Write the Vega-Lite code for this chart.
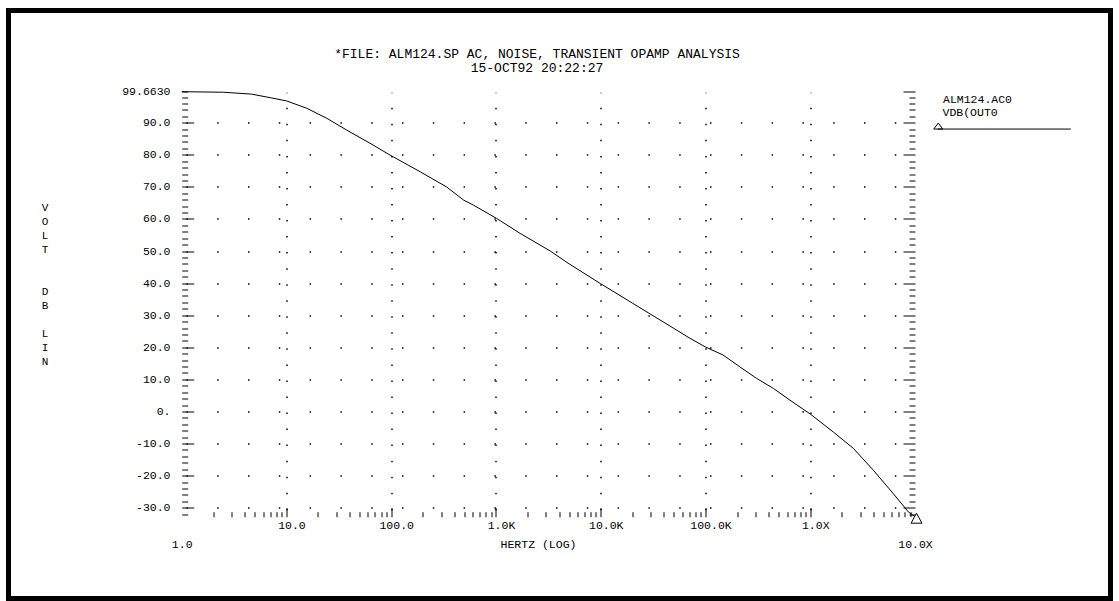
{
  "$schema": "https://vega.github.io/schema/vega-lite/v6.json",
  "width": 1102,
  "height": 588,
  "autosize": {"type": "none"},
  "padding": {"left": 8.5, "top": 10.5, "right": 8.5, "bottom": 2.5},
  "background": "white",
  "title": {
    "text": ["*FILE: ALM124.SP  AC, NOISE, TRANSIENT OPAMP ANALYSIS", "15-OCT92 20:22:27"],
    "font": "Liberation Mono",
    "fontSize": 13,
    "fontWeight": "normal",
    "color": "black",
    "anchor": "middle",
    "frame": "group",
    "baseline": "alphabetic",
    "offset": -74,
    "dx": -22.5,
    "lineHeight": 13.5
  },
  "config": {
    "view": {"stroke": "black", "strokeWidth": 5, "fill": "white"},
    "axis": {
      "domain": false,
      "grid": false,
      "labelFont": "Liberation Mono",
      "labelFontSize": 11.5,
      "labelColor": "black",
      "tickColor": "black",
      "tickWidth": 1,
      "titleFont": "Liberation Mono",
      "titleFontSize": 11.5,
      "titleFontWeight": "normal",
      "titleColor": "black",
      "labelOverlap": false,
      "labelFlush": false,
      "labelBound": false,
      "gridColor": "black",
      "gridOpacity": 1
    }
  },
  "data": {
    "values": [
      {"f": 1, "db": 99.663, "s": "VDB(OUT0"},
      {"f": 2.5, "db": 99.5, "s": "VDB(OUT0"},
      {"f": 4.66, "db": 98.9, "s": "VDB(OUT0"},
      {"f": 7, "db": 97.8, "s": "VDB(OUT0"},
      {"f": 10, "db": 96.8, "s": "VDB(OUT0"},
      {"f": 15.6, "db": 94.5, "s": "VDB(OUT0"},
      {"f": 24.2, "db": 91.4, "s": "VDB(OUT0"},
      {"f": 37.6, "db": 87.7, "s": "VDB(OUT0"},
      {"f": 62.7, "db": 83.6, "s": "VDB(OUT0"},
      {"f": 97.6, "db": 79.9, "s": "VDB(OUT0"},
      {"f": 189, "db": 74.7, "s": "VDB(OUT0"},
      {"f": 337, "db": 70.0, "s": "VDB(OUT0"},
      {"f": 490, "db": 65.9, "s": "VDB(OUT0"},
      {"f": 610, "db": 64.3, "s": "VDB(OUT0"},
      {"f": 1010, "db": 60.2, "s": "VDB(OUT0"},
      {"f": 1700, "db": 55.5, "s": "VDB(OUT0"},
      {"f": 3300, "db": 50.0, "s": "VDB(OUT0"},
      {"f": 5000, "db": 46.0, "s": "VDB(OUT0"},
      {"f": 10000, "db": 39.8, "s": "VDB(OUT0"},
      {"f": 20000, "db": 33.8, "s": "VDB(OUT0"},
      {"f": 40000, "db": 27.8, "s": "VDB(OUT0"},
      {"f": 71100, "db": 22.8, "s": "VDB(OUT0"},
      {"f": 100000, "db": 20.1, "s": "VDB(OUT0"},
      {"f": 147000, "db": 17.6, "s": "VDB(OUT0"},
      {"f": 213000, "db": 13.9, "s": "VDB(OUT0"},
      {"f": 308000, "db": 10.3, "s": "VDB(OUT0"},
      {"f": 444000, "db": 7.2, "s": "VDB(OUT0"},
      {"f": 641000, "db": 3.5, "s": "VDB(OUT0"},
      {"f": 1000000, "db": -0.8, "s": "VDB(OUT0"},
      {"f": 1660000, "db": -6.4, "s": "VDB(OUT0"},
      {"f": 2580000, "db": -11.5, "s": "VDB(OUT0"},
      {"f": 4000000, "db": -18.3, "s": "VDB(OUT0"},
      {"f": 6200000, "db": -25.6, "s": "VDB(OUT0"},
      {"f": 8630000, "db": -31.3, "s": "VDB(OUT0"},
      {"f": 10000000, "db": -32.8, "s": "VDB(OUT0"}
    ]
  },
  "resolve": {"axis": {"x": "independent", "y": "independent"}, "scale": {"x": "shared", "y": "shared"}},
  "layer": [
    {
      "mark": {"type": "line", "strokeWidth": 1},
      "encoding": {
        "x": {
          "field": "f", "type": "quantitative",
          "scale": {"type": "log", "domain": [1, 10000000], "range": [173.2, 906.5], "nice": false},
          "axis": {
            "orient": "bottom", "offset": -81.8,
            "values": [10, 100, 1000, 10000, 100000, 1000000],
            "ticks": false, "tickSize": 0,
            "labelExpr": "datum.value == 10 ? '10.0' : datum.value == 100 ? '100.0' : datum.value == 1000 ? '1.0K' : datum.value == 10000 ? '10.0K' : datum.value == 100000 ? '100.0K' : '1.0X'",
            "labelPadding": 11.3, "labelBaseline": "alphabetic", "labelAlign": "center", "labelOffset": 5,
            "title": null
          }
        },
        "y": {
          "field": "db", "type": "quantitative",
          "scale": {"domain": [-32.8, 99.663], "range": [506.2, 81.2], "zero": false, "nice": false},
          "axis": {
            "orient": "left", "offset": -173.2,
            "values": [99.663, 90, 80, 70, 60, 50, 40, 30, 20, 10, 0, -10, -20, -30],
            "ticks": false, "tickSize": 0,
            "labelPadding": 11.7,
            "labelExpr": "datum.value > 99 ? '99.6630' : datum.value == 0 ? '0.' : datum.value + '.0'",
            "title": ["V", "O", "L", "T"],
            "titleAngle": 0, "titleAlign": "center", "titleBaseline": "top",
            "titleX": -137.2, "titleY": 191, "titleFontSize": 11, "titleLineHeight": 14,
            "titleColor": "black"
          }
        },
        "color": {
          "field": "s", "type": "nominal",
          "scale": {"range": ["black"]},
          "legend": {
            "orient": "none", "legendX": 934.5, "legendY": 83.5,
            "title": "ALM124.AC0",
            "titleFont": "Liberation Mono", "titleFontSize": 11.5, "titleFontWeight": "normal", "titleColor": "black", "titlePadding": 2,
            "labelFont": "Liberation Mono", "labelFontSize": 11.5, "labelColor": "black", "labelOffset": -12,
            "symbolType": "M-15,15.8L-6,15.8L-10.5,9.8ZM-11,15.8L122,15.8",
            "symbolSize": 4, "symbolStrokeWidth": 1, "symbolStrokeColor": "black", "symbolFillColor": "transparent",
            "padding": 0
          }
        }
      }
    },
    {
      "transform": [{"filter": "datum.f == 1"}],
      "mark": {"type": "point", "opacity": 0},
      "encoding": {
        "x": {
          "field": "f", "type": "quantitative",
          "axis": {
            "orient": "bottom", "offset": -81.8,
            "values": [1, 10000000],
            "ticks": false, "tickSize": 0,
            "labelExpr": "datum.value == 1 ? '1.0' : '10.0X'",
            "labelPadding": 30.5, "labelBaseline": "alphabetic", "labelAlign": "center",
            "title": "HERTZ (LOG)", "titleX": 529.5, "titleY": 30.5, "titleBaseline": "alphabetic", "titleAlign": "center"
          }
        },
        "y": {
          "field": "db", "type": "quantitative",
          "axis": {
            "orient": "left", "offset": -173.2,
            "values": [90, 80, 70, 60, 50, 40, 30, 20, 10, 0, -10, -20, -30],
            "labels": false, "tickSize": -12,
            "grid": true, "gridDash": [1.5, 29.3], "gridDashOffset": 26.6, "gridWidth": 1.5,
            "title": ["D", "B"],
            "titleAngle": 0, "titleAlign": "center", "titleBaseline": "top",
            "titleX": -137.2, "titleY": 275, "titleFontSize": 11, "titleLineHeight": 14,
            "titleColor": "black"
          }
        }
      }
    },
    {
      "transform": [{"filter": "datum.f == 1"}],
      "mark": {"type": "point", "opacity": 0},
      "encoding": {
        "x": {
          "field": "f", "type": "quantitative",
          "axis": {
            "orient": "bottom", "offset": -81.8,
            "values": [10, 100, 1000, 10000, 100000, 1000000],
            "labels": false, "tickSize": -9,
            "grid": true, "gridDash": [1.5, 14.54], "gridDashOffset": 1.08, "gridWidth": 1.5,
            "title": null
          }
        },
        "y": {
          "field": "db", "type": "quantitative",
          "axis": {
            "orient": "left", "offset": -173.2,
            "values": [99.663, 98, 96, 94, 92, 88, 86, 84, 82, 78, 76, 74, 72, 68, 66, 64, 62, 58, 56, 54, 52, 48, 46, 44, 42, 38, 36, 34, 32, 28, 26, 24, 22, 18, 16, 14, 12, 8, 6, 4, 2, -2, -4, -6, -8, -12, -14, -16, -18, -22, -24, -26, -28, -32],
            "labels": false, "tickSize": -6,
            "title": ["L", "I", "N"],
            "titleAngle": 0, "titleAlign": "center", "titleBaseline": "top",
            "titleX": -137.2, "titleY": 317, "titleFontSize": 11, "titleLineHeight": 14,
            "titleColor": "black"
          }
        }
      }
    },
    {
      "transform": [{"filter": "datum.f == 1"}],
      "mark": {"type": "point", "opacity": 0},
      "encoding": {
        "x": {
          "field": "f", "type": "quantitative",
          "axis": {
            "orient": "bottom", "offset": -81.8,
            "values": [2, 3, 4, 5, 6, 7, 8, 9, 20, 30, 40, 50, 60, 70, 80, 90, 200, 300, 400, 500, 600, 700, 800, 900, 2000, 3000, 4000, 5000, 6000, 7000, 8000, 9000, 20000, 30000, 40000, 50000, 60000, 70000, 80000, 90000, 200000, 300000, 400000, 500000, 600000, 700000, 800000, 900000, 2000000, 3000000, 4000000, 5000000, 6000000, 7000000, 8000000, 9000000],
            "labels": false, "tickSize": -5,
            "title": null
          }
        },
        "y": {
          "field": "db", "type": "quantitative",
          "axis": {
            "orient": "right", "offset": -195.5,
            "values": [99.663, 90, 80, 70, 60, 50, 40, 30, 20, 10, 0, -10, -20, -30],
            "labels": false, "tickSize": -12,
            "title": null
          }
        }
      }
    },
    {
      "transform": [{"filter": "datum.f == 10000000"}],
      "mark": {"type": "point", "shape": "M1.5,-3.5L7,6.5L-4,6.5Z", "size": 4, "filled": false, "stroke": "black", "strokeWidth": 1, "opacity": 1},
      "encoding": {
        "x": {"field": "f", "type": "quantitative", "axis": null},
        "y": {
          "field": "db", "type": "quantitative",
          "axis": {
            "orient": "right", "offset": -195.5,
            "values": [98, 96, 94, 92, 88, 86, 84, 82, 78, 76, 74, 72, 68, 66, 64, 62, 58, 56, 54, 52, 48, 46, 44, 42, 38, 36, 34, 32, 28, 26, 24, 22, 18, 16, 14, 12, 8, 6, 4, 2, -2, -4, -6, -8, -12, -14, -16, -18, -22, -24, -26, -28, -32],
            "labels": false, "tickSize": -6,
            "title": null
          }
        }
      }
    }
  ]
}
